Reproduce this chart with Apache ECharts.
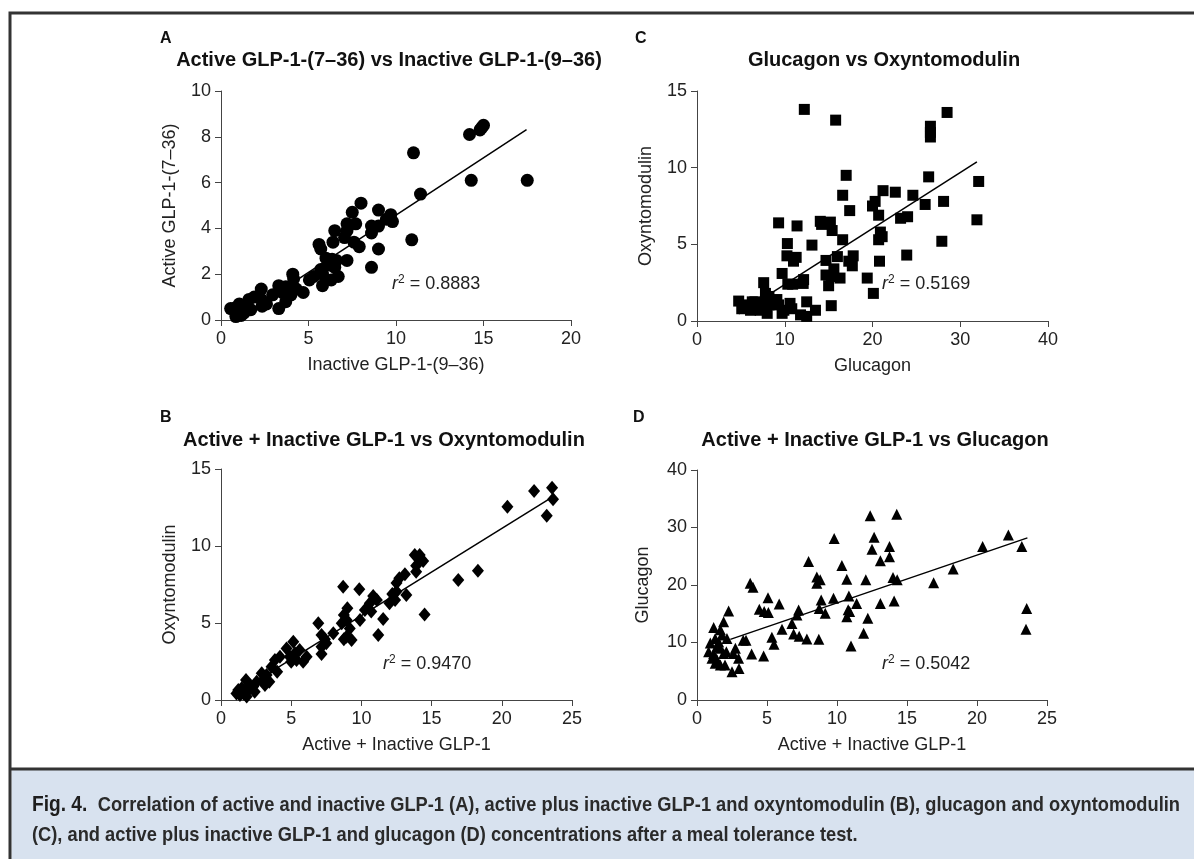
<!DOCTYPE html>
<html>
<head>
<meta charset="utf-8">
<script src="https://cdn.jsdelivr.net/npm/echarts@6/dist/echarts.min.js"></script>
<style>
html,body{margin:0;padding:0;background:#fff;}
#chart{width:1194px;height:859px;}
</style>
</head>
<body>
<div id="chart"></div>
<script>
// ---------- DATA ----------
// Panel A: Inactive GLP-1-(9–36) (x) vs Active GLP-1-(7–36) (y)
var pointsA = [
  [14.9,8.4],[15.0,8.5],[14.8,8.3],[14.2,8.1],[11.0,7.3],[14.3,6.1],[17.5,6.1],[11.4,5.5],[10.9,3.5],
  [8.0,5.1],[9.0,4.8],[7.5,4.7],[9.7,4.6],[9.45,4.4],[9.8,4.3],[9.0,4.1],[8.6,4.1],[7.7,4.2],[7.2,4.2],
  [7.2,3.9],[6.5,3.9],[7.06,3.6],[8.6,3.8],[7.6,3.4],[6.4,3.4],[5.6,3.3],[5.7,3.1],[7.9,3.2],[9.0,3.1],
  [6.0,2.7],[6.35,2.65],[6.6,2.6],[7.2,2.6],[6.2,2.4],[6.5,2.3],[8.6,2.3],[5.7,2.2],[5.8,2.0],[5.3,1.9],
  [5.05,1.75],[6.7,1.9],[6.3,1.75],[5.8,1.5],[4.1,2.0],[4.15,1.8],[3.3,1.5],[3.7,1.45],[4.0,1.4],[4.3,1.35],
  [4.7,1.2],[3.5,1.2],[4.0,1.1],[2.95,1.1],[3.7,0.8],[3.3,0.5],[2.3,1.35],[1.9,1.0],[2.3,0.9],[2.6,0.7],
  [2.35,0.6],[1.6,0.9],[1.45,0.65],[1.05,0.7],[0.85,0.55],[0.55,0.5],[1.25,0.5],[1.7,0.45],[1.05,0.35],
  [0.85,0.15],[1.15,0.2],[0.85,0.3],[1.3,0.3]
];
var fitA = [[0.9,0.03],[17.46,8.31]];
var r2A = '0.8883';

// Panel B: Active + Inactive GLP-1 (x) vs Oxyntomodulin (y)
var pointsB = [
  [23.58,13.79],[22.3,13.57],[23.65,13.03],[23.2,11.97],[20.4,12.55],[18.3,8.4],[16.9,7.8],[14.5,5.56],
  [13.8,9.42],[14.15,9.42],[14.04,9.2],[14.4,9.03],[13.9,8.72],[13.9,8.33],[13.1,8.16],[12.7,7.9],[12.5,7.6],
  [13.2,6.82],[12.2,6.88],[12.4,6.5],[12.0,6.28],[12.5,7.04],[10.84,6.75],[11.1,6.5],[10.6,6.28],[10.25,5.84],
  [10.7,5.74],[11.55,5.26],[11.2,4.22],[9.85,7.19],[9.9,5.19],[8.7,7.36],[9.0,5.95],[8.75,5.52],[8.94,5.19],
  [8.6,4.98],[9.17,4.65],[8.94,4.11],[9.3,3.9],[8.75,3.94],[6.93,4.98],[7.16,4.22],[7.4,3.94],[8.0,4.33],
  [7.5,3.68],[7.16,3.46],[7.16,2.99],[5.15,3.79],[4.67,3.35],[5.27,3.03],[5.6,3.25],[6.1,2.81],[5.85,2.49],
  [5.38,2.6],[4.9,2.81],[5.0,2.49],[4.2,2.81],[3.84,2.6],[3.6,2.16],[4.0,1.84],[3.25,1.62],[2.9,1.73],
  [3.0,1.3],[3.44,1.19],[3.13,0.97],[2.54,1.19],[2.3,0.87],[2.06,0.97],[1.78,1.3],[1.47,0.76],[1.23,0.65],
  [1.1,0.43],[1.6,0.43],[1.83,0.22],[1.35,0.32],[1.95,0.65],[2.4,0.54]
];
var fitB = [[1.2,0.5],[23.65,13.2]];
var r2B = '0.9470';

// Panel C: Glucagon (x) vs Oxyntomodulin (y)
var pointsC = [
  [12.23,13.8],[15.8,13.1],[28.5,13.6],[26.6,12.7],[26.6,12.3],[26.6,12.0],[17.0,9.5],[26.4,9.4],[32.1,9.1],
  [21.2,8.5],[22.6,8.4],[24.6,8.2],[16.6,8.2],[20.3,7.8],[28.1,7.8],[20.0,7.5],[26.0,7.6],[17.4,7.2],[20.7,6.9],
  [23.2,6.7],[24.0,6.8],[31.9,6.6],[9.3,6.4],[14.05,6.5],[15.2,6.45],[14.2,6.3],[11.4,6.2],[15.4,5.9],[20.9,5.8],
  [21.1,5.5],[20.7,5.3],[27.9,5.2],[10.3,5.05],[13.1,4.95],[16.6,5.3],[10.25,4.25],[11.3,4.15],[11.0,3.9],
  [16.0,4.2],[17.8,4.25],[23.9,4.3],[14.7,3.95],[17.3,3.9],[17.7,3.6],[20.8,3.9],[15.6,3.4],[9.7,3.1],[14.7,3.0],
  [15.3,2.9],[16.3,2.8],[19.4,2.8],[12.15,2.7],[10.35,2.4],[10.9,2.4],[12.1,2.45],[15.0,2.3],[7.6,2.5],[20.1,1.8],
  [7.8,1.8],[8.2,1.6],[15.3,1.0],[12.5,1.25],[13.5,0.7],[11.8,0.4],[12.5,0.3],
  [4.75,1.3],[5.5,1.05],[6.3,1.25],[6.8,0.95],[6.1,0.7],[7.2,0.7],[8.0,0.5],[8.2,1.05],[8.7,1.25],[9.3,1.05],
  [9.9,0.7],[9.7,0.5],[10.6,1.15],[10.8,0.8],[9.1,1.4],[7.6,1.15],[6.6,1.25],[5.1,0.8]
];
var fitC = [[4.75,0.46],[31.9,10.38]];
var r2C = '0.5169';

// Panel D: Active + Inactive GLP-1 (x) vs Glucagon (y)
var pointsD = [
  [12.37,32.06],[14.27,32.3],[22.24,28.7],[12.65,28.3],[9.8,28.1],[13.75,26.7],[12.5,26.2],[20.4,26.7],[23.2,26.7],
  [13.75,24.9],[13.1,24.2],[7.97,24.1],[10.35,23.4],[18.3,22.8],[8.56,21.4],[8.8,20.9],[10.7,21.0],[12.06,20.9],
  [14.0,21.3],[14.3,20.9],[16.9,20.4],[8.56,20.3],[3.8,20.3],[4.0,19.6],[23.55,15.9],[23.5,12.3],[9.75,17.7],
  [10.85,18.1],[8.87,17.4],[11.4,16.8],[13.1,16.8],[14.08,17.2],[5.07,17.8],[5.87,16.7],[8.73,15.9],[9.16,15.1],
  [7.26,15.65],[7.14,14.8],[4.45,15.8],[4.8,15.4],[5.1,15.2],[2.26,15.5],[10.8,15.7],[10.9,15.4],[10.7,14.5],
  [12.2,14.2],[6.78,13.3],[6.07,12.3],[5.35,10.9],[5.5,9.7],[6.9,11.5],[7.3,11.1],[7.85,10.6],[8.7,10.55],
  [11.9,11.6],[11.0,9.4],[3.3,10.4],[3.5,10.4],[3.9,8.0],[4.76,7.65],[2.97,7.25],[3.0,5.5],[2.5,4.9],[2.74,9.0],
  [2.6,8.1],[1.19,12.6],[1.67,12.2],[1.9,13.6],[2.14,10.7],[1.3,10.7],[0.95,9.9],[1.55,10.1],[1.67,9.0],
  [0.83,8.4],[1.19,8.1],[1.9,8.1],[2.1,8.4],[1.07,7.25],[1.43,7.0],[1.67,6.1],[2.0,6.1],[1.3,6.4],[1.43,9.3],[1.78,11.3]
];
var fitD = [[2.38,10.55],[23.6,28.2]];
var r2D = '0.5042';

var panelTitles = {
  A: 'Active GLP-1-(7\u201336) vs Inactive GLP-1-(9\u201336)',
  B: 'Active + Inactive GLP-1 vs Oxyntomodulin',
  C: 'Glucagon vs Oxyntomodulin',
  D: 'Active + Inactive GLP-1 vs Glucagon'
};
var xNames = ['Inactive GLP-1-(9\u201336)', 'Active + Inactive GLP-1', 'Glucagon', 'Active + Inactive GLP-1'];
var yNames = ['Active GLP-1-(7\u201336)', 'Oxyntomodulin', 'Oxyntomodulin', 'Glucagon'];
var xMax = [20, 25, 40, 25], xStep = [5, 5, 10, 5];
var yMax = [10, 15, 15, 40], yStep = [2, 5, 5, 10];
var captionLabel = 'Fig. 4.';
var captionLine1 = 'Correlation of active and inactive GLP-1 (A), active plus inactive GLP-1 and oxyntomodulin (B), glucagon and oxyntomodulin';
var captionLine2 = '(C), and active plus inactive GLP-1 and glucagon (D) concentrations after a meal tolerance test.';

// ---------- CHART ----------
var FONT = "'Liberation Sans', Arial, Helvetica, sans-serif";
var grids = [
  {left: 221, top: 91, width: 350, height: 229},
  {left: 221, top: 469, width: 351, height: 231},
  {left: 697, top: 91, width: 351, height: 230},
  {left: 697, top: 470, width: 350, height: 230}
];
var axisLine = {lineStyle: {color: '#444', width: 1}};
var xAxes = [], yAxes = [];
for (var i = 0; i < 4; i++) {
  xAxes.push({
    type: 'value', gridIndex: i, min: 0, max: xMax[i], interval: xStep[i],
    name: xNames[i], nameLocation: 'middle', nameGap: 36,
    nameTextStyle: {fontFamily: FONT, fontSize: 18, color: '#222'},
    axisLine: axisLine, axisTick: {show: true, length: 6, lineStyle: {color: '#444'}},
    axisLabel: {fontFamily: FONT, fontSize: 18, color: '#222', margin: 10},
    splitLine: {show: false}
  });
  yAxes.push({
    type: 'value', gridIndex: i, min: 0, max: yMax[i], interval: yStep[i],
    name: yNames[i], nameLocation: 'middle', nameGap: (i === 3 ? 45 : 42), nameRotate: 90,
    nameTextStyle: {fontFamily: FONT, fontSize: 18, color: '#222'},
    axisLine: Object.assign({show: true}, axisLine), axisTick: {show: true, length: 6, lineStyle: {color: '#444'}},
    axisLabel: {fontFamily: FONT, fontSize: 18, color: '#222', margin: 10},
    splitLine: {show: false}
  });
}

function scatter(idx, data, symbol, size) {
  return {type: 'scatter', xAxisIndex: idx, yAxisIndex: idx, data: data, symbol: symbol, symbolSize: size,
    itemStyle: {color: '#000', opacity: 1}, silent: true, z: 3};
}
function fit(idx, data) {
  return {type: 'line', xAxisIndex: idx, yAxisIndex: idx, data: data, symbol: 'none',
    lineStyle: {color: '#000', width: 1.5}, silent: true, z: 4};
}

var rich = {
  i: {fontFamily: FONT, fontSize: 18, fontStyle: 'italic', fontWeight: 'normal', color: '#222'},
  s: {fontFamily: FONT, fontSize: 12, fontWeight: 'normal', color: '#222', verticalAlign: 'top', padding: [0, 0, 8, 0]},
  n: {fontFamily: FONT, fontSize: 18, fontWeight: 'normal', color: '#222'}
};
function r2(text, left, top) {
  return {text: '{i|r}{s|2}{n| = ' + text + '}', left: left, top: top, textStyle: {fontWeight: 'normal', rich: rich}, padding: 0};
}
function letter(t, left, top) {
  return {text: t, left: left, top: top, padding: 0, textStyle: {fontFamily: FONT, fontSize: 16, fontWeight: 'bold', color: '#111'}};
}
function ptitle(t, cx, top) {
  return {text: t, left: cx, top: top, textAlign: 'center', padding: 0, textStyle: {fontFamily: FONT, fontSize: 20, fontWeight: 'bold', color: '#111'}};
}

// caption: a bold sans font squeezed horizontally to mimic the condensed journal face
var CAP_FIG = {fontFamily: 'Liberation Sans', fontSize: 22, fontWeight: 'bold'};
var CAP_TXT = {fontFamily: 'Liberation Sans', fontSize: 21, fontWeight: 'bold'};
var mctx = document.createElement('canvas').getContext('2d');
function tw(st, s) { mctx.font = st.fontWeight + ' ' + st.fontSize + 'px "' + st.fontFamily + '"'; return mctx.measureText(s).width; }
var capGap = 12;
var wFig = tw(CAP_FIG, captionLabel);
var wLine1 = wFig + capGap + tw(CAP_TXT, captionLine1);
var capScale = (1180 - 32) / wLine1;

var option = {
  animation: false,
  backgroundColor: '#fff',
  graphic: [
    {type: 'rect', shape: {x: 10, y: 13, width: 1200, height: 900}, style: {fill: 'none', stroke: '#333', lineWidth: 3}, z: -1},
    {type: 'rect', shape: {x: 11.5, y: 770, width: 1200, height: 100}, style: {fill: '#d8e2ef'}, z: -2},
    {type: 'line', shape: {x1: 10, y1: 769, x2: 1194, y2: 769}, style: {stroke: '#333', lineWidth: 3}, z: -1},
    {type: 'group', x: 32, y: 0, scaleX: capScale, children: [
      {type: 'text', x: 0, y: 805, style: Object.assign({text: captionLabel, fill: '#1e1e1e', verticalAlign: 'middle'}, CAP_FIG)},
      {type: 'text', x: wFig + capGap, y: 805, style: Object.assign({text: captionLine1, fill: '#2a2a2a', verticalAlign: 'middle'}, CAP_TXT)},
      {type: 'text', x: 0, y: 835, style: Object.assign({text: captionLine2, fill: '#2a2a2a', verticalAlign: 'middle'}, CAP_TXT)}
    ]}
  ],
  title: [
    letter('A', 160, 31), ptitle(panelTitles.A, 389, 50),
    letter('B', 160, 410), ptitle(panelTitles.B, 384, 430),
    letter('C', 635, 31), ptitle(panelTitles.C, 884, 50),
    letter('D', 633, 410), ptitle(panelTitles.D, 875, 430),
    r2(r2A, 392, 274), r2(r2B, 383, 654), r2(r2C, 882, 274), r2(r2D, 882, 654)
  ],
  grid: grids,
  xAxis: xAxes,
  yAxis: yAxes,
  series: [
    scatter(0, pointsA, 'circle', 13), fit(0, fitA),
    scatter(1, pointsB, 'diamond', [12, 14]), fit(1, fitB),
    scatter(2, pointsC, 'rect', 11), fit(2, fitC),
    scatter(3, pointsD, 'triangle', 11), fit(3, fitD)
  ]
};
var chart = echarts.init(document.getElementById('chart'), null, {renderer: 'canvas'});
chart.setOption(option);
</script>
</body>
</html>
